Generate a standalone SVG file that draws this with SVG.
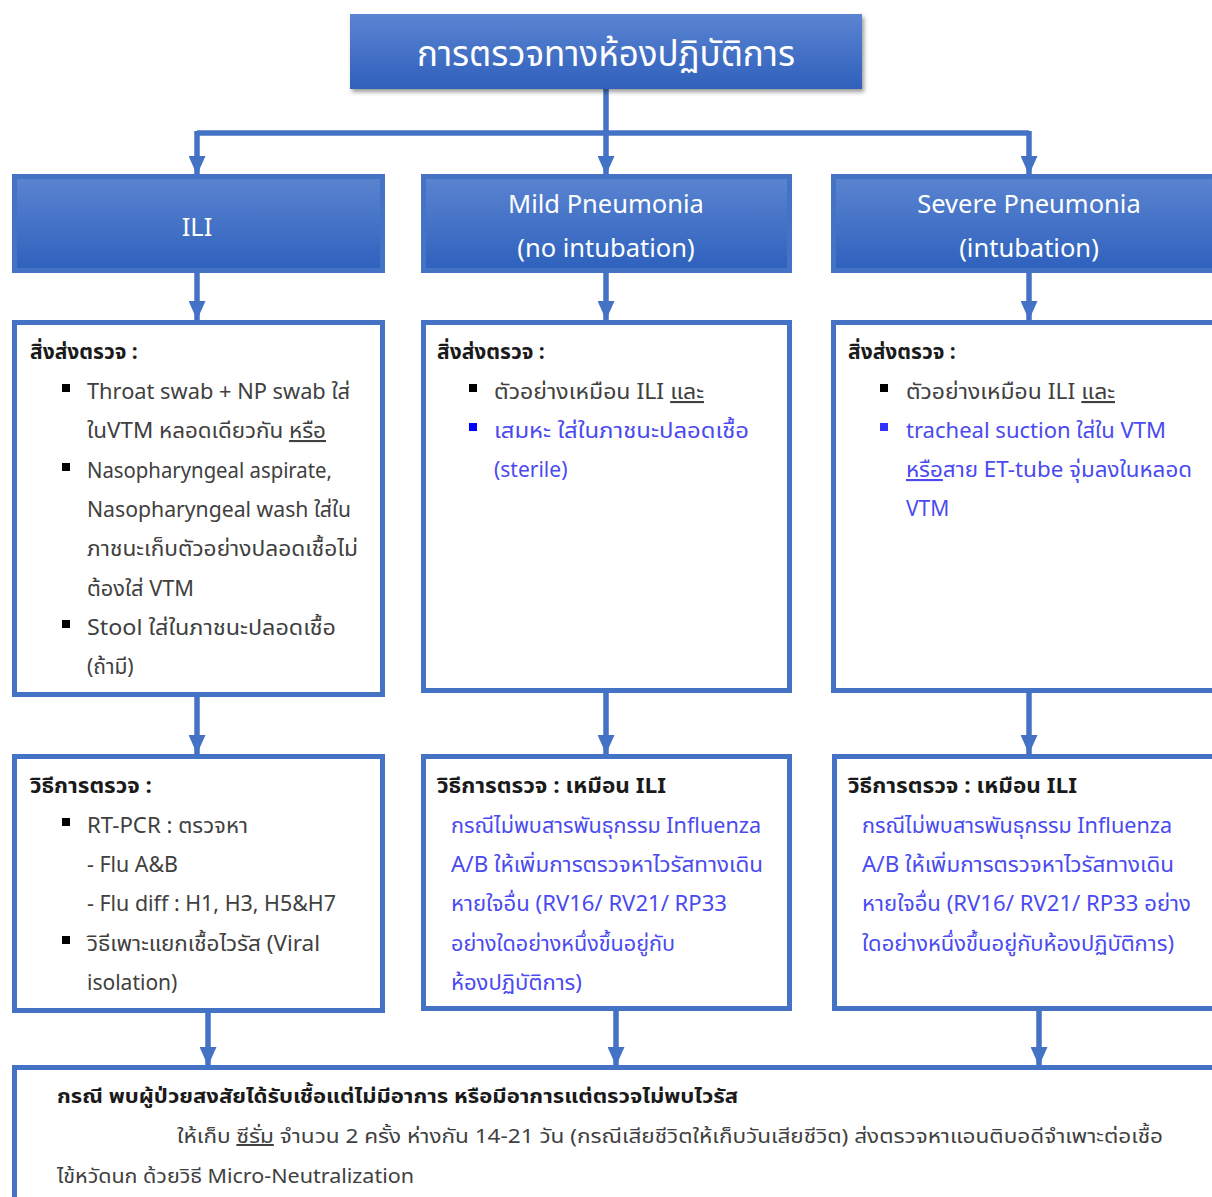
<svg xmlns="http://www.w3.org/2000/svg" width="1212" height="1197" viewBox="0 0 1212 1197">
<defs>
<linearGradient id="gTitle" x1="0" y1="0" x2="0" y2="1">
<stop offset="0" stop-color="#5b84d2"/>
<stop offset="1" stop-color="#2f60bb"/>
</linearGradient>
<linearGradient id="gHead" x1="0" y1="0" x2="0" y2="1">
<stop offset="0" stop-color="#5b84d0"/>
<stop offset="1" stop-color="#2e61bd"/>
</linearGradient>
<filter id="shadow" x="-5%" y="-20%" width="115%" height="150%">
<feDropShadow dx="2" dy="3" stdDeviation="2" flood-color="#000" flood-opacity="0.4"/>
</filter>
<marker id="arr" markerUnits="userSpaceOnUse" markerWidth="20" markerHeight="17" refX="19" refY="8.5" orient="auto">
<path d="M0,0 L19,8.5 L0,17 Z" fill="#4472c4"/>
</marker>
<style>
.t{font-family:"Noto Sans Thai","Noto Sans","Liberation Sans",sans-serif;}
.body{font-size:21px;fill:#404040;}
.blue{font-size:21px;fill:#4a4af0;}
.hd{font-size:21px;font-weight:bold;fill:#1a1a1a;}
.head{font-size:25.5px;fill:#ffffff;text-anchor:middle;}
.box{fill:#ffffff;stroke:#4472c4;stroke-width:5;}
.hbox{fill:url(#gHead);stroke:#4472c4;stroke-width:5;}
.con{fill:none;stroke:#4472c4;stroke-width:5.5;}
.u{text-decoration:underline;}
.sq{fill:#000;}
.sqb{fill:#0000ff;}
.bt{font-size:20px;fill:#404040;}
.btb{font-size:20px;font-weight:bold;fill:#1a1a1a;}
</style>
</defs>
<rect width="1212" height="1197" fill="#ffffff"/>

<g id="connectors">
<path class="con" d="M606,89 V133"/>
<path class="con" d="M197,133 H1029"/>
<path class="con" d="M197,131 V175" marker-end="url(#arr)"/>
<path class="con" d="M606,131 V175" marker-end="url(#arr)"/>
<path class="con" d="M1029,131 V175" marker-end="url(#arr)"/>
<path class="con" d="M197,272 V320" marker-end="url(#arr)"/>
<path class="con" d="M606,272 V320" marker-end="url(#arr)"/>
<path class="con" d="M1029,272 V320" marker-end="url(#arr)"/>
<path class="con" d="M197,697 V754" marker-end="url(#arr)"/>
<path class="con" d="M606,693 V754" marker-end="url(#arr)"/>
<path class="con" d="M1029,693 V754" marker-end="url(#arr)"/>
<path class="con" d="M208,1013 V1066" marker-end="url(#arr)"/>
<path class="con" d="M616,1011 V1066" marker-end="url(#arr)"/>
<path class="con" d="M1039,1011 V1066" marker-end="url(#arr)"/>
</g>

<g id="title">
<rect x="350" y="14" width="512" height="75" fill="url(#gTitle)" filter="url(#shadow)"/>
<text class="t" x="606" y="66" font-size="35" fill="#ffffff" text-anchor="middle" textLength="378" lengthAdjust="spacingAndGlyphs">การตรวจทางห้องปฏิบัติการ</text>
</g>

<g id="head-ili">
<rect class="hbox" x="14.5" y="176.5" width="368" height="94"/>
<text class="t head" x="197" y="236">ILI</text>
</g>
<g id="head-mild">
<rect class="hbox" x="423.5" y="176.5" width="366" height="94"/>
<text class="t head" x="606" y="213">Mild Pneumonia</text>
<text class="t head" x="606" y="257">(no intubation)</text>
</g>
<g id="head-severe">
<rect class="hbox" x="833.5" y="176.5" width="390" height="94"/>
<text class="t head" x="1029" y="213">Severe Pneumonia</text>
<text class="t head" x="1029" y="257">(intubation)</text>
</g>

<g id="spec-ili">
<rect class="box" x="14.5" y="322.5" width="368" height="372"/>
<text class="t hd" x="30" y="359">สิ่งส่งตรวจ :</text>
<rect class="sq" x="62" y="384" width="8" height="8"/>
<text class="t body" x="87" y="399" textLength="263" lengthAdjust="spacingAndGlyphs">Throat swab + NP swab ใส่</text>
<text class="t body" x="87" y="438" textLength="239" lengthAdjust="spacingAndGlyphs">ในVTM หลอดเดียวกัน <tspan class="u">หรือ</tspan></text>
<rect class="sq" x="62" y="463" width="8" height="8"/>
<text class="t body" x="87" y="478" textLength="245" lengthAdjust="spacingAndGlyphs">Nasopharyngeal  aspirate,</text>
<text class="t body" x="87" y="517" textLength="264" lengthAdjust="spacingAndGlyphs">Nasopharyngeal  wash ใส่ใน</text>
<text class="t body" x="87" y="556" textLength="271" lengthAdjust="spacingAndGlyphs">ภาชนะเก็บตัวอย่างปลอดเชื้อไม่</text>
<text class="t body" x="87" y="596" textLength="107" lengthAdjust="spacingAndGlyphs">ต้องใส่ VTM</text>
<rect class="sq" x="62" y="620" width="8" height="8"/>
<text class="t body" x="87" y="635" textLength="249" lengthAdjust="spacingAndGlyphs">Stool ใส่ในภาชนะปลอดเชื้อ</text>
<text class="t body" x="87" y="674">(ถ้ามี)</text>
</g>

<g id="spec-mild">
<rect class="box" x="423.5" y="322.5" width="366" height="368"/>
<text class="t hd" x="437" y="359">สิ่งส่งตรวจ :</text>
<rect class="sq" x="469" y="384" width="8" height="8"/>
<text class="t body" x="494" y="399" textLength="210" lengthAdjust="spacingAndGlyphs">ตัวอย่างเหมือน ILI  <tspan class="u">และ</tspan></text>
<rect class="sqb" x="469" y="423" width="8" height="8"/>
<text class="t blue" x="494" y="438" textLength="255" lengthAdjust="spacingAndGlyphs">เสมหะ ใส่ในภาชนะปลอดเชื้อ</text>
<text class="t blue" x="494" y="477">(sterile)</text>
</g>

<g id="spec-severe">
<rect class="box" x="833.5" y="322.5" width="390" height="368"/>
<text class="t hd" x="848" y="359">สิ่งส่งตรวจ :</text>
<rect class="sq" x="880" y="384" width="8" height="8"/>
<text class="t body" x="906" y="399" textLength="209" lengthAdjust="spacingAndGlyphs">ตัวอย่างเหมือน ILI  <tspan class="u">และ</tspan></text>
<rect x="880" y="423" width="8" height="8" fill="#3333ff"/>
<text class="t blue" x="906" y="438" textLength="260" lengthAdjust="spacingAndGlyphs">tracheal  suction ใส่ใน VTM</text>
<text class="t blue" x="906" y="477" textLength="286" lengthAdjust="spacingAndGlyphs"><tspan class="u">หรือ</tspan>สาย ET-tube จุ่มลงในหลอด</text>
<text class="t blue" x="906" y="516">VTM</text>
</g>

<g id="method-ili">
<rect class="box" x="14.5" y="756.5" width="368" height="254"/>
<text class="t hd" x="30" y="793" textLength="122" lengthAdjust="spacingAndGlyphs">วิธีการตรวจ :</text>
<rect class="sq" x="62" y="818" width="8" height="8"/>
<text class="t body" x="87" y="833" textLength="161" lengthAdjust="spacingAndGlyphs">RT-PCR : ตรวจหา</text>
<text class="t body" x="87" y="872" textLength="91" lengthAdjust="spacingAndGlyphs">- Flu A&amp;B</text>
<text class="t body" x="87" y="911" textLength="249" lengthAdjust="spacingAndGlyphs">- Flu diff : H1, H3, H5&amp;H7</text>
<rect class="sq" x="62" y="936" width="8" height="8"/>
<text class="t body" x="87" y="951" textLength="233" lengthAdjust="spacingAndGlyphs">วิธีเพาะแยกเชื้อไวรัส (Viral</text>
<text class="t body" x="87" y="990">isolation)</text>
</g>

<g id="method-mild">
<rect class="box" x="423.5" y="756.5" width="366" height="252"/>
<text class="t hd" x="437" y="793" textLength="229" lengthAdjust="spacingAndGlyphs">วิธีการตรวจ :  เหมือน ILI</text>
<text class="t blue" x="451" y="833" textLength="310" lengthAdjust="spacingAndGlyphs">กรณีไม่พบสารพันธุกรรม Influenza</text>
<text class="t blue" x="451" y="872" textLength="312" lengthAdjust="spacingAndGlyphs">A/B ให้เพิ่มการตรวจหาไวรัสทางเดิน</text>
<text class="t blue" x="451" y="911" textLength="276" lengthAdjust="spacingAndGlyphs">หายใจอื่น (RV16/ RV21/ RP33</text>
<text class="t blue" x="451" y="951" textLength="224" lengthAdjust="spacingAndGlyphs">อย่างใดอย่างหนึ่งขึ้นอยู่กับ</text>
<text class="t blue" x="451" y="990" textLength="131" lengthAdjust="spacingAndGlyphs">ห้องปฏิบัติการ)</text>
</g>

<g id="method-severe">
<rect class="box" x="834.5" y="756.5" width="390" height="252"/>
<text class="t hd" x="848" y="793" textLength="229" lengthAdjust="spacingAndGlyphs">วิธีการตรวจ :  เหมือน ILI</text>
<text class="t blue" x="862" y="833" textLength="310" lengthAdjust="spacingAndGlyphs">กรณีไม่พบสารพันธุกรรม Influenza</text>
<text class="t blue" x="862" y="872" textLength="312" lengthAdjust="spacingAndGlyphs">A/B ให้เพิ่มการตรวจหาไวรัสทางเดิน</text>
<text class="t blue" x="862" y="911" textLength="329" lengthAdjust="spacingAndGlyphs">หายใจอื่น (RV16/ RV21/ RP33 อย่าง</text>
<text class="t blue" x="862" y="951" textLength="312" lengthAdjust="spacingAndGlyphs">ใดอย่างหนึ่งขึ้นอยู่กับห้องปฏิบัติการ)</text>
</g>

<g id="serology">
<rect class="box" x="14.5" y="1067.5" width="1210" height="140"/>
<text class="t btb" x="57" y="1103" textLength="681" lengthAdjust="spacingAndGlyphs">กรณี พบผู้ป่วยสงสัยได้รับเชื้อแต่ไม่มีอาการ หรือมีอาการแต่ตรวจไม่พบไวรัส</text>
<text class="t bt" x="177" y="1143" textLength="986" lengthAdjust="spacingAndGlyphs">ให้เก็บ <tspan class="u">ซีรั่ม</tspan> จำนวน 2 ครั้ง ห่างกัน 14-21 วัน (กรณีเสียชีวิตให้เก็บวันเสียชีวิต) ส่งตรวจหาแอนติบอดีจำเพาะต่อเชื้อ</text>
<text class="t bt" x="57" y="1183" textLength="357" lengthAdjust="spacingAndGlyphs">ไข้หวัดนก ด้วยวิธี Micro-Neutralization</text>
</g>
</svg>
